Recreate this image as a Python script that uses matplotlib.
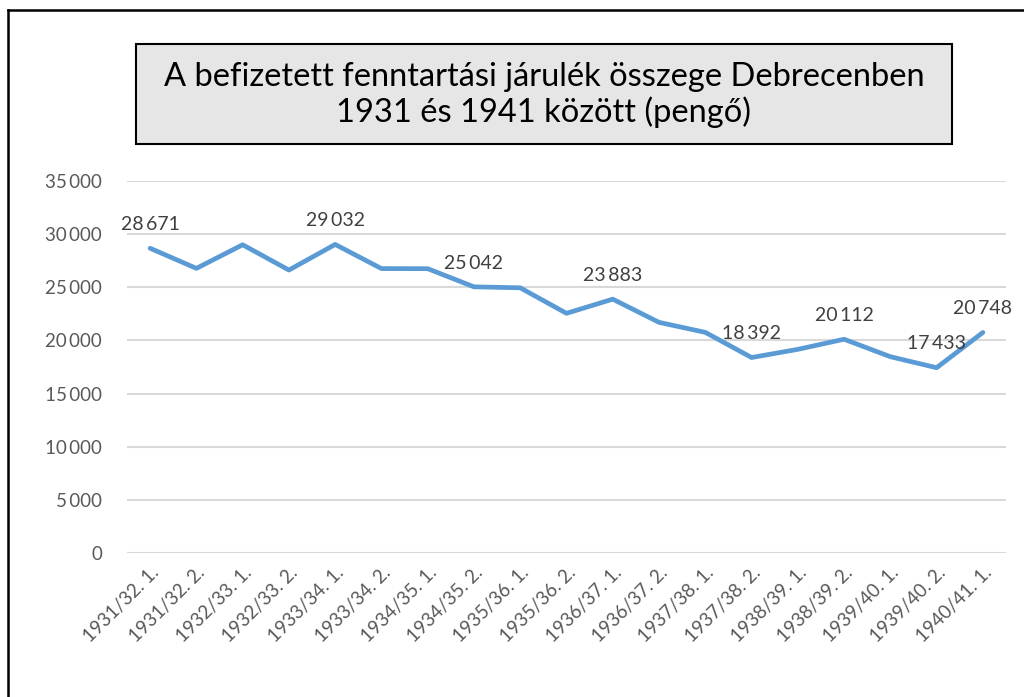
import numpy as np
import matplotlib.pyplot as plt
from matplotlib.patches import Rectangle
from matplotlib.lines import Line2D
from matplotlib.ticker import FuncFormatter

# =============================
# DATA
# =============================
periods = [
    "1931/32. 1.", "1931/32. 2.", "1932/33. 1.", "1932/33. 2.",
    "1933/34. 1.", "1933/34. 2.", "1934/35. 1.", "1934/35. 2.",
    "1935/36. 1.", "1935/36. 2.", "1936/37. 1.", "1936/37. 2.",
    "1937/38. 1.", "1937/38. 2.", "1938/39. 1.", "1938/39. 2.",
    "1939/40. 1.", "1939/40. 2.", "1940/41. 1.",
]
amounts = [
    28671, 26780, 29000, 26620, 29032, 26760, 26750, 25042,
    24950, 22550, 23883, 21700, 20760, 18392, 19160, 20112,
    18470, 17433, 20748,
]
labelled_idx = [0, 4, 7, 10, 13, 15, 17, 18]

title = "A befizetett fenntartási járulék összege Debrecenben\n1931 és 1941 között (pengő)"

FONT = ["Lato", "DejaVu Sans"]
plt.rcParams['font.family'] = FONT


def fmt_num(v, pos=None):
    s = f"{int(round(v)):,}".replace(",", "\u2009")
    return s


# =============================
# PLOT
# =============================
W, H = 1024, 697
fig = plt.figure(figsize=(W / 100, H / 100), dpi=100)

# plot area in pixels: x 127..1006, y 181..553
ax = fig.add_axes([127 / W, 1 - 553 / H, (1006 - 127) / W, (553 - 181) / H])

x = np.arange(len(periods))
ax.plot(x, amounts, color="#5b9bd5", lw=3.4, solid_joinstyle="round",
        solid_capstyle="round", zorder=3)

for i in labelled_idx:
    ax.annotate(fmt_num(amounts[i]), (x[i], amounts[i]),
                xytext=(0, 11), textcoords="offset points",
                ha="center", va="bottom", fontsize=14, color="#404040",
                zorder=4)

ax.set_xlim(-0.5, len(periods) - 0.5)
ax.set_ylim(0, 35000)
ax.set_yticks(np.arange(0, 35001, 5000))
ax.yaxis.set_major_formatter(FuncFormatter(fmt_num))
ax.set_xticks(x)
ax.set_xticklabels(periods, rotation=45, ha="right", rotation_mode="anchor")

ax.grid(axis="y", color="#d9d9d9", lw=1.5, zorder=0)
ax.set_axisbelow(True)
for sp in ax.spines.values():
    sp.set_visible(False)
ax.tick_params(axis="both", length=0, colors="#595959", labelsize=13.5)
ax.tick_params(axis="y", pad=18)
ax.tick_params(axis="x", pad=8)

# title box
fig.patches.append(Rectangle((136 / W, 1 - 144 / H), (952 - 136) / W, 100 / H,
                             transform=fig.transFigure, facecolor="#e6e6e6",
                             edgecolor="black", lw=1.5))
fig.text((136 + 952) / 2 / W, 1 - 95 / H, title, ha="center", va="center",
         fontsize=23.5, color="black", linespacing=1.15)

# outer frame (left and top edges)
fig.lines.append(Line2D([8 / W, 8 / W], [0, 1 - 10 / H], transform=fig.transFigure,
                        color="black", lw=1.8))
fig.lines.append(Line2D([8 / W, 1], [1 - 10 / H, 1 - 10 / H], transform=fig.transFigure,
                        color="black", lw=1.8))

fig.savefig("out.png", dpi=100)
